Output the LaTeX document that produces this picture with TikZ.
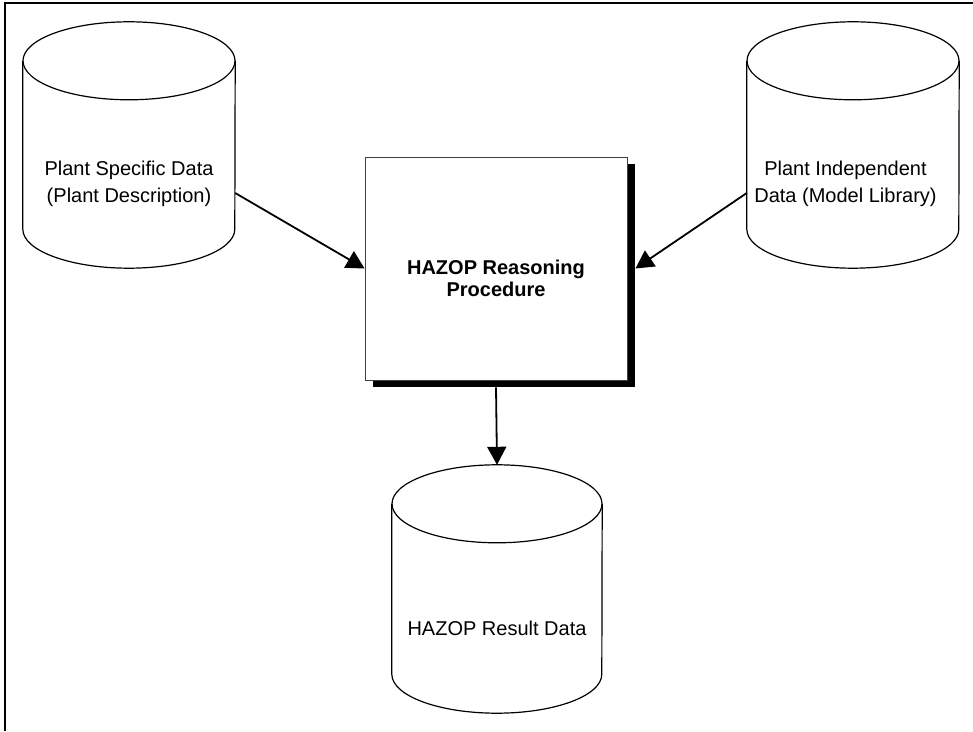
\documentclass[tikz,border=0pt]{standalone}
\usepackage{fontspec}
\setmainfont{Liberation Sans}
\usetikzlibrary{arrows.meta,shadows}
\begin{document}
\begin{tikzpicture}[x=1pt,y=1pt,
  cyl/.style={draw=none, minimum width=212pt, minimum height=168pt, inner sep=0pt, align=center, font=\fontsize{20}{27.5}\selectfont},
  outline/.style={line width=1.2pt},
  conn/.style={line width=1.8pt, -{Triangle[length=18pt,width=19pt]}},
  procbox/.style={draw=black!75, line width=0.9pt, fill=white, minimum width=262pt, minimum height=223pt, inner sep=0pt, align=center, font=\fontsize{20}{22}\selectfont\bfseries, drop shadow={opacity=1, fill=black, shadow xshift=8pt, shadow yshift=-7pt}},
  frame/.style={line width=2pt}]
\useasboundingbox (0,0) rectangle (973,731);
\draw[frame] (5,0) -- (5,727.7) -- (973,727.7);

\node[cyl] (ps) at (129,547) {Plant Specific Data\\(Plant Description)};
\node[cyl] (pi) at (853,547) {Plant Independent\hspace*{15pt}\\Data (Model Library)\hspace*{15pt}};
\node[cyl, minimum width=210pt, minimum height=170pt] (rd) at (497,103) {HAZOP Result Data};
\node[procbox] (proc) at (496,462.5) {\rule{0pt}{35pt}HAZOP Reasoning\\Procedure};

\foreach \n/\r in {ps/106pt, pi/106pt, rd/105pt} {
  \draw[outline] ([yshift=39pt]\n.north) ellipse [x radius=\r, y radius=39pt];
  \draw[outline] ([yshift=39pt]\n.north west) -- ([yshift=39pt]\n.south west)
    arc[start angle=180, end angle=360, x radius=\r, y radius=39pt] -- ([yshift=39pt]\n.north east);
}

\draw[conn] ([yshift=-9pt]ps.east) -- (proc.west);
\draw[conn] ([yshift=-9pt]pi.west) -- ([xshift=8pt]proc.east);
\draw[conn] ([yshift=-7pt]proc.south) -- ([yshift=78pt]rd.north);
\end{tikzpicture}
\end{document}
